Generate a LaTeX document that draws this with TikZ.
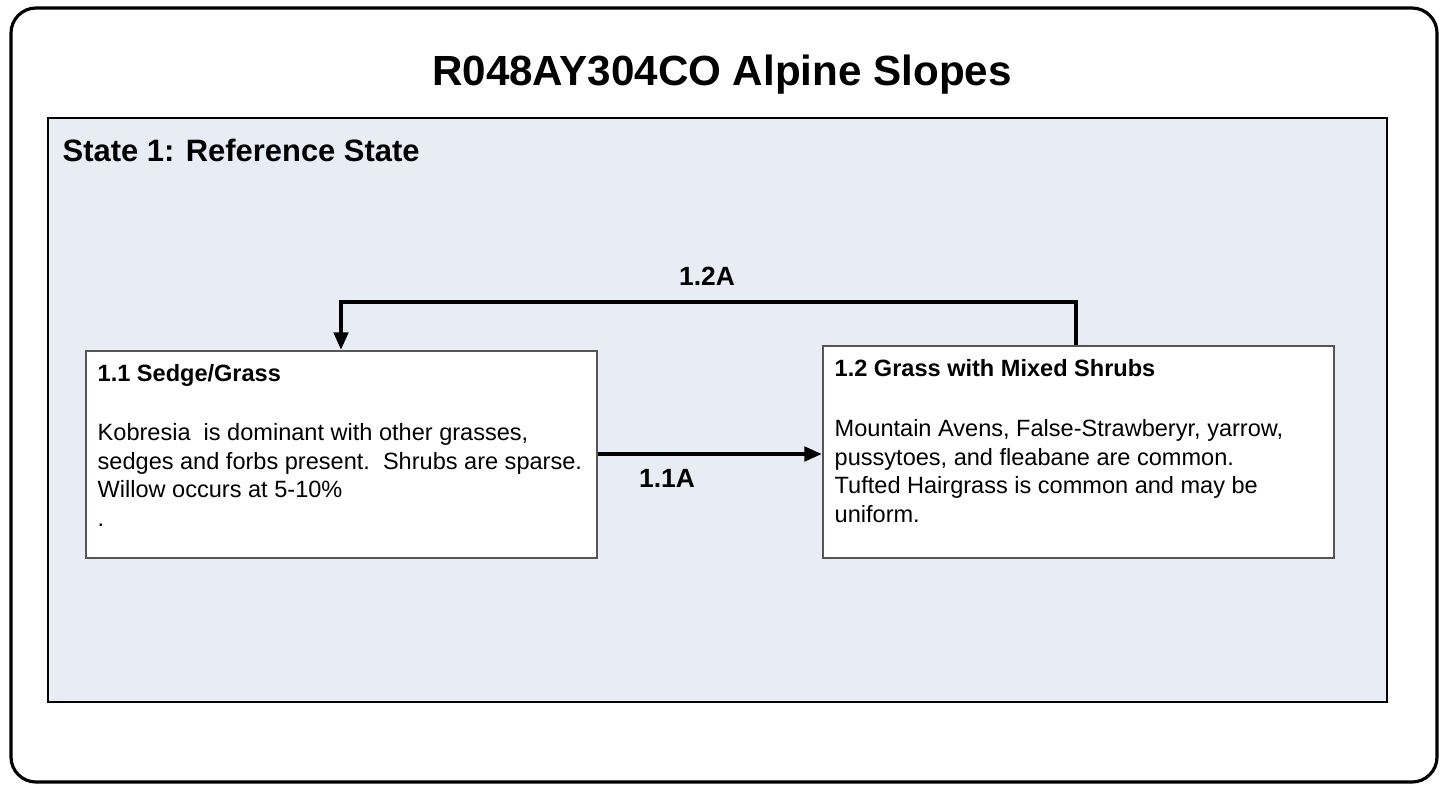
\documentclass[tikz,border=0pt]{standalone}
\usepackage{fontspec}
\setmainfont{Liberation Sans}
\usepackage{tikz}
\usetikzlibrary{arrows.meta, positioning, calc}
\definecolor{statefill}{HTML}{E8ECF4}
\definecolor{boxline}{HTML}{555555}

\begin{document}
\begin{tikzpicture}[
    phasebox/.style={draw=boxline, line width=0.5pt, fill=white, minimum width=5.11cm, minimum height=2.07cm, anchor=north west, inner sep=0pt},
    headtext/.style={font=\fontsize{6.7}{8}\selectfont\bfseries, anchor=base west, inner sep=0pt},
    bodytext/.style={font=\fontsize{6.7}{8.1}\selectfont, align=left, anchor=north west, inner sep=0pt},
    pathlabel/.style={font=\fontsize{7.5}{9}\selectfont\bfseries},
    trans/.style={line width=1.2pt, -{Triangle[length=5pt, width=4pt]}}
  ]
    \useasboundingbox (0,0) rectangle (14.44,7.87);

    % outer frame and state box
    \draw[line width=0.9pt, rounded corners=0.25cm, fill=white] (0.11,0.05) rectangle (14.37,7.79);
    \node[font=\fontsize{12}{14}\selectfont\bfseries] (title) at (7.22,7.12) {R048AY304CO Alpine Slopes};
    \draw[line width=0.6pt, fill=statefill] (0.48,0.85) rectangle (13.87,6.69);
    \node[font=\fontsize{8.8}{10}\selectfont\bfseries, anchor=west, inner sep=0pt] (state) at (0.62,6.37) {State 1: Reference State};

    % community phases
    \node[phasebox] (sedge) at (0.85,4.37) {};
    \node[phasebox, minimum height=2.12cm] (shrub) at (8.22,4.42) {};

    \node[headtext] (sedgehead) at (0.97,4.06) {1.1 Sedge/Grass};
    \node[bodytext] (sedgebody) at (0.97,3.64) {Kobresia\ \ is dominant with other grasses,\\sedges and forbs present.\ \ Shrubs are sparse.\\Willow occurs at 5-10\%\\.};

    \node[headtext] (shrubhead) at (8.34,4.11) {1.2 Grass with Mixed Shrubs};
    \node[bodytext] (shrubbody) at (8.34,3.68) {Mountain Avens, False-Strawberyr, yarrow,\\pussytoes, and fleabane are common.\\Tufted Hairgrass is common and may be\\uniform.};

    % transitions
    \coordinate (upR) at (10.76,4.85);
    \coordinate (upL) at (3.41,4.85);
    \draw[trans] (sedge.east |- 0,3.33) -- (shrub.west |- 0,3.33);
    \node[pathlabel] (lab11) at (6.67,3.09) {1.1A};
    \draw[trans] (shrub.north -| upR) -- (upR) -- (upL) -- (sedge.north -| upL);
    \node[pathlabel] (lab12) at (7.07,5.11) {1.2A};
\end{tikzpicture}
\end{document}
